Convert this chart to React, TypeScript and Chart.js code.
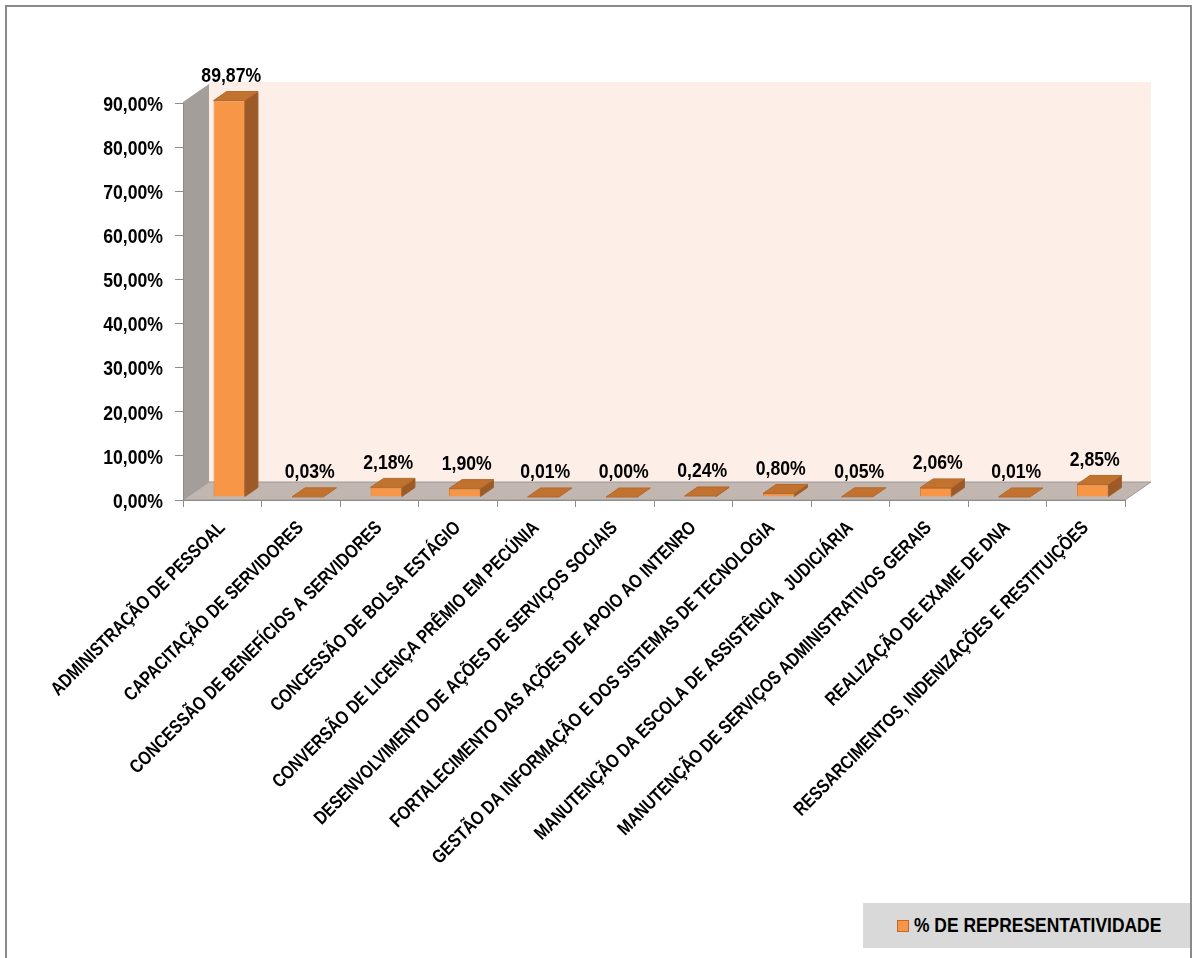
import React, { useEffect, useRef } from "react";
import { Chart, registerables } from "chart.js";
Chart.register(...registerables);

const categories = [
  "ADMINISTRAÇÃO DE PESSOAL",
  "CAPACITAÇÃO DE SERVIDORES",
  "CONCESSÃO DE BENEFÍCIOS A SERVIDORES",
  "CONCESSÃO DE BOLSA ESTÁGIO",
  "CONVERSÃO DE LICENÇA PRÊMIO EM PECÚNIA",
  "DESENVOLVIMENTO DE AÇÕES DE SERVIÇOS SOCIAIS",
  "FORTALECIMENTO DAS AÇÕES DE APOIO AO INTENRO",
  "GESTÃO DA INFORMAÇÃO E DOS SISTEMAS DE TECNOLOGIA",
  "MANUTENÇÃO DA ESCOLA DE ASSISTÊNCIA  JUDICIÁRIA",
  "MANUTENÇÃO DE SERVIÇOS ADMINISTRATIVOS GERAIS",
  "REALIZAÇÃO DE EXAME DE DNA",
  "RESSARCIMENTOS, INDENIZAÇÕES E RESTITUIÇÕES",
];
const values = [89.87, 0.03, 2.18, 1.9, 0.01, 0.0, 0.24, 0.8, 0.05, 2.06, 0.01, 2.85];
const yMin = 0;
const yMax = 90;
const yStep = 10;
const seriesLabel = "% DE REPRESENTATIVIDADE";

const FONT = "'Liberation Sans', Arial, sans-serif";
const fmt = (v: number) => v.toFixed(2).replace(".", ",") + "%";

const WALL_DX = 26;
const WALL_DY = -18;
const BAR_OFF_X = 7;
const BAR_OFF_Y = -3;
const BAR_DX = 13;
const BAR_DY = -9;

function poly(ctx: CanvasRenderingContext2D, pts: number[][], fill: string, stroke?: string) {
  ctx.beginPath();
  ctx.moveTo(pts[0][0], pts[0][1]);
  for (let i = 1; i < pts.length; i++) ctx.lineTo(pts[i][0], pts[i][1]);
  ctx.closePath();
  ctx.fillStyle = fill;
  ctx.fill();
  if (stroke) {
    ctx.strokeStyle = stroke;
    ctx.lineWidth = 1;
    ctx.stroke();
  }
}

// narrow bold text (Arial Narrow look) drawn by horizontal scaling
function narrowText(
  ctx: CanvasRenderingContext2D,
  text: string,
  x: number,
  y: number,
  size: number,
  sx: number,
  align: CanvasTextAlign,
  baseline: CanvasTextBaseline,
  rot = 0
) {
  ctx.save();
  ctx.translate(x, y);
  if (rot) ctx.rotate(rot);
  ctx.scale(sx, 1);
  ctx.font = `bold ${size}px ${FONT}`;
  ctx.fillStyle = "#000";
  ctx.textAlign = align;
  ctx.textBaseline = baseline;
  ctx.fillText(text, 0, 0);
  ctx.restore();
}

const threeD = {
  id: "threeD",
  beforeDraw(chart: any) {
    const { ctx, chartArea } = chart;
    const { left, right, top, bottom } = chartArea;
    ctx.save();
    ctx.fillStyle = "#fdeee7";
    ctx.fillRect(left + WALL_DX, top + WALL_DY - 3, right - left, bottom - top + 3);
    poly(ctx, [
      [left, top - 1],
      [left + WALL_DX, top - 1 + WALL_DY],
      [left + WALL_DX, bottom + WALL_DY],
      [left, bottom],
    ], "#a49e9a");
    poly(ctx, [
      [left, bottom],
      [right, bottom],
      [right + WALL_DX, bottom + WALL_DY],
      [left + WALL_DX, bottom + WALL_DY],
    ], "#c1b6b0", "#9a9a9a");
    ctx.restore();
  },
  afterDraw(chart: any) {
    const { ctx, chartArea } = chart;
    const xs = chart.scales.x;
    const ys = chart.scales.y;
    ys.ticks.forEach((t: any, i: number) => {
      const py = ys.getPixelForTick(i);
      narrowText(ctx, fmt(t.value), chartArea.left - 20, py + 2, 21, 0.84, "right", "middle");
    });
    categories.forEach((c, i) => {
      const px = xs.getPixelForTick(i);
      narrowText(ctx, c, px, chartArea.bottom + 25, 19, 0.82, "right", "middle", -Math.PI / 4);
    });
  },
  beforeDatasetDraw(chart: any) {
    chart.ctx.save();
    chart.ctx.translate(BAR_OFF_X, BAR_OFF_Y);
  },
  afterDatasetDraw(chart: any) {
    chart.ctx.restore();
  },
  afterDatasetsDraw(chart: any) {
    const { ctx } = chart;
    const meta = chart.getDatasetMeta(0);
    ctx.save();
    meta.data.forEach((el: any, i: number) => {
      const { x, y, base, width } = el.getProps(["x", "y", "base", "width"], true);
      const x0 = x - width / 2 + BAR_OFF_X;
      const x1 = x + width / 2 + BAR_OFF_X;
      const yt = y + BAR_OFF_Y;
      const yb = base + BAR_OFF_Y;
      if (yb - yt > 0.5) {
        poly(ctx, [
          [x1, yt],
          [x1 + BAR_DX, yt + BAR_DY],
          [x1 + BAR_DX, yb + BAR_DY],
          [x1, yb],
        ], "#9c5a29", "#a2602c");
      }
      poly(ctx, [
        [x0, yt],
        [x1, yt],
        [x1 + BAR_DX, yt + BAR_DY],
        [x0 + BAR_DX, yt + BAR_DY],
      ], "#c2722f", "#b5682b");
      narrowText(ctx, fmt(values[i]), (x0 + x1) / 2 + 2, yt + BAR_DY - 5, 21, 0.84, "center", "bottom");
    });
    ctx.restore();
  },
};

export default function App() {
  const ref = useRef<HTMLCanvasElement>(null);
  useEffect(() => {
    if (!ref.current) return;
    const chart = new Chart(ref.current, {
      type: "bar",
      data: {
        labels: categories,
        datasets: [
          {
            label: seriesLabel,
            data: values,
            backgroundColor: "#f79646",
            borderColor: "#e27d2c",
            borderWidth: 1,
            barPercentage: 0.4,
            categoryPercentage: 1,
          },
        ],
      },
      options: {
        responsive: false,
        animation: false,
        layout: { padding: { top: 103, left: 0, right: 72, bottom: 0 } },
        plugins: { legend: { display: false }, tooltip: { enabled: false } },
        scales: {
          x: {
            afterFit: (s: any) => {
              s.height = 458;
            },
            grid: { drawOnChartArea: false, tickLength: 7, color: "#8c8c8c", offset: true },
            border: { display: true, color: "#8c8c8c" },
            ticks: { display: false, autoSkip: false },
          },
          y: {
            min: yMin,
            max: yMax,
            afterFit: (s: any) => {
              s.width = 183;
            },
            grid: { drawOnChartArea: false, tickLength: 8, color: "#8c8c8c" },
            border: { display: true, color: "#8c8c8c" },
            ticks: { display: false, stepSize: yStep },
          },
        },
      },
      plugins: [threeD],
    });
    return () => chart.destroy();
  }, []);

  return (
    <div style={{ position: "absolute", left: 0, top: 0, width: 1197, height: 958, overflow: "hidden", background: "#fff" }}>
      <canvas ref={ref} width={1197} height={958} style={{ position: "absolute", left: 0, top: 0, display: "block" }} />
      <div
        style={{
          position: "absolute",
          left: 5,
          top: 5,
          width: 1187,
          height: 970,
          border: "2px solid #8a8a8a",
          boxSizing: "border-box",
          pointerEvents: "none",
        }}
      />
      <div
        style={{
          position: "absolute",
          left: 863,
          top: 903,
          width: 327,
          height: 45,
          background: "#d9d9d9",
        }}
      >
        <span
          style={{
            position: "absolute",
            left: 34,
            top: 17,
            width: 10,
            height: 10,
            background: "#f79646",
            border: "1px solid #c0672a",
          }}
        />
        <span
          style={{
            position: "absolute",
            left: 51,
            top: 9,
            whiteSpace: "nowrap",
            fontFamily: FONT,
            fontWeight: "bold",
            fontSize: 21,
            lineHeight: "26px",
            color: "#000",
            transform: "scaleX(0.83)",
            transformOrigin: "left center",
          }}
        >
          {seriesLabel}
        </span>
      </div>
    </div>
  );
}
